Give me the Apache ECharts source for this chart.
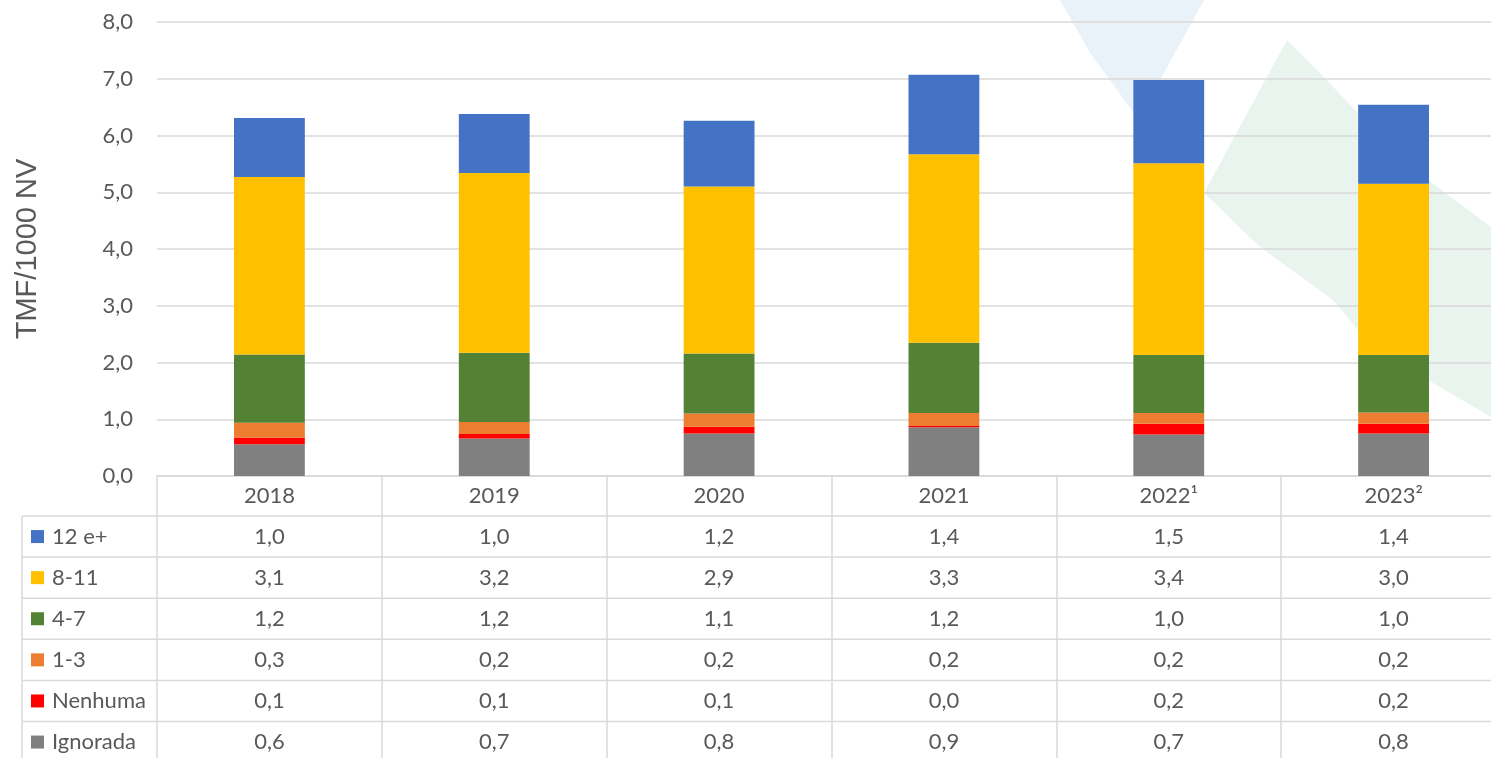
<!DOCTYPE html>
<html>
<head>
<meta charset="utf-8">
<script src="https://cdn.jsdelivr.net/npm/echarts@6/dist/echarts.min.js"></script>
<style>
  html, body { margin: 0; padding: 0; background: #fff; }
  #main { width: 1491px; height: 758px; }
</style>
</head>
<body>
<div id="main"></div>
<script>
// anos (categorias)
var years = ['2018', '2019', '2020', '2021', '2022\u00b9', '2023\u00b2'];

// TMF/1000 NV por nº de consultas pré-natais (de baixo para cima na pilha)
var ignorada = [0.56, 0.66, 0.75, 0.86, 0.73, 0.75];
var nenhuma  = [0.12, 0.08, 0.12, 0.02, 0.19, 0.17];
var c1a3     = [0.26, 0.21, 0.23, 0.23, 0.19, 0.20];
var c4a7     = [1.20, 1.22, 1.06, 1.24, 1.02, 1.01];
var c8a11    = [3.13, 3.17, 2.94, 3.32, 3.38, 3.02];
var c12mais  = [1.04, 1.04, 1.16, 1.40, 1.47, 1.39];

var yTicks = [0, 1, 2, 3, 4, 5, 6, 7, 8];

var gridColor = '#d9d9d9';
var textColor = '#595959';
var font = 'Lato';

function fmt(v) {
    return (Math.round(v * 10) / 10).toFixed(1).replace('.', ',');
}

// linhas da tabela (de cima para baixo)
var rows = [
    { name: '12 e+',   data: c12mais,  color: '#4472C4' },
    { name: '8-11',    data: c8a11,    color: '#FFC000' },
    { name: '4-7',     data: c4a7,     color: '#548235' },
    { name: '1-3',     data: c1a3,     color: '#ED7D31' },
    { name: 'Nenhuma', data: nenhuma,  color: '#FF0000' },
    { name: 'Ignorada', data: ignorada, color: '#808080' }
];

var myChart = echarts.init(document.getElementById('main'));

var series = rows.slice().reverse().map(function (r) {
    return {
        name: r.name,
        type: 'bar',
        stack: 'total',
        barWidth: '31.5%',
        data: r.data,
        itemStyle: { color: r.color },
        emphasis: { disabled: true }
    };
});

var option = {
    backgroundColor: '#fff',
    animation: false,
    grid: { left: 157, right: -15, top: 22, bottom: 282, outerBoundsMode: 'none', containLabel: false },
    xAxis: {
        type: 'category',
        data: years,
        axisLine: { lineStyle: { color: gridColor, width: 1.5 } },
        axisTick: { show: true, length: 300, lineStyle: { color: gridColor, width: 1.5 } },
        axisLabel: {
            color: textColor, fontFamily: font, fontSize: 22,
            margin: 20, verticalAlign: 'middle', interval: 0
        }
    },
    yAxis: {
        type: 'value',
        min: yTicks[0],
        max: yTicks[yTicks.length - 1],
        interval: 1,
        name: 'TMF/1000 NV',
        nameLocation: 'middle',
        nameRotate: 90,
        nameGap: 115,
        nameTextStyle: { color: textColor, fontFamily: 'Liberation Sans', fontSize: 29 },
        axisLine: { show: false },
        axisTick: { show: false },
        axisLabel: {
            color: textColor, fontFamily: font, fontSize: 22, margin: 24,
            formatter: function (v) { return fmt(v); }
        },
        splitLine: { lineStyle: { color: gridColor, width: 1.5 } }
    },
    series: series
};

myChart.setOption(option);

// tabela de dados abaixo do eixo
var xs = years.map(function (y) { return myChart.convertToPixel({ xAxisIndex: 0 }, y); });
var y0 = myChart.convertToPixel({ yAxisIndex: 0 }, 0);
var headH = 40;
var rowH = 41.1;
var tableLeft = 22;
var els = [];

// marca d'água decorativa
els.push({
    type: 'polygon', z: -10, silent: true,
    shape: { points: [[1060, 0], [1204, 0], [1138, 120], [1133, 112], [1110, 80], [1090, 53]] },
    style: { fill: '#eaf2f9' }
});
els.push({
    type: 'polygon', z: -10, silent: true,
    shape: { points: [[1287, 40], [1317, 70], [1358, 113], [1428, 180], [1491, 227], [1500, 232],
                      [1500, 422], [1491, 417], [1428, 380], [1358, 330], [1333, 300], [1260, 247], [1204, 193]] },
    style: { fill: '#eaf4ee' }
});

for (var r = 0; r <= rows.length; r++) {
    var yy = y0 + headH + r * rowH;
    els.push({
        type: 'line', silent: true,
        shape: { x1: tableLeft, y1: yy, x2: 1491, y2: yy },
        style: { stroke: gridColor, lineWidth: 1.5 }
    });
}
els.push({
    type: 'line', silent: true,
    shape: { x1: tableLeft, y1: y0 + headH, x2: tableLeft, y2: 760 },
    style: { stroke: gridColor, lineWidth: 1.5 }
});

rows.forEach(function (row, i) {
    var cy = y0 + headH + i * rowH + rowH / 2;
    els.push({
        type: 'rect', silent: true,
        shape: { x: 31, y: cy - 6.5, width: 13, height: 13 },
        style: { fill: row.color }
    });
    els.push({
        type: 'text', silent: true,
        x: 52, y: cy,
        style: { text: row.name, fill: textColor, font: '22px ' + font, textAlign: 'left', textVerticalAlign: 'middle' }
    });
    row.data.forEach(function (v, j) {
        els.push({
            type: 'text', silent: true,
            x: xs[j], y: cy,
            style: { text: fmt(v), fill: textColor, font: '22px ' + font, textAlign: 'center', textVerticalAlign: 'middle' }
        });
    });
});

myChart.setOption({ graphic: { elements: els } });
</script>
</body>
</html>
